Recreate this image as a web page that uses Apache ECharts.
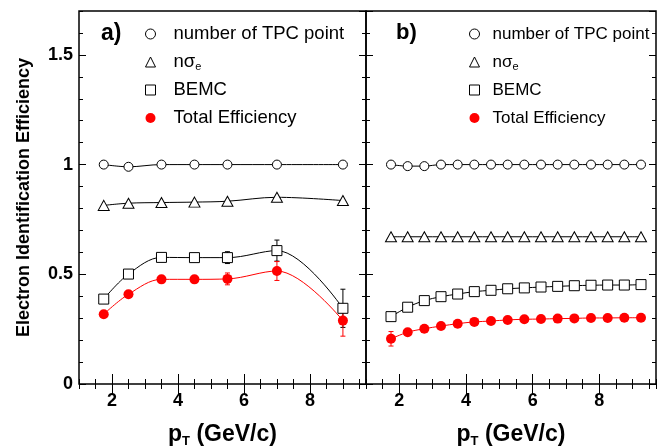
<!DOCTYPE html>
<html>
<head>
<meta charset="utf-8">
<script src="https://cdn.jsdelivr.net/npm/echarts@6/dist/echarts.min.js"></script>
<style>html,body{margin:0;padding:0;background:#fff}#c{width:671px;height:448px}</style>
</head>
<body>
<div id="c"></div>
<script>
// ---------- data ----------
const seriesNames = ['number of TPC point', 'nσe', 'BEMC', 'Total Efficiency'];
const xTickLabels = [2, 4, 6, 8];

// panel a)
const xA     = [1.75, 2.5, 3.5, 4.5, 5.5, 7, 9];
const tpcA   = [1.0, 0.99, 1.0, 1.0, 1.0, 1.0, 1.0];
const nsigA  = [0.814, 0.824, 0.827, 0.829, 0.833, 0.851, 0.836];
const bemcA  = [0.387, 0.501, 0.577, 0.576, 0.576, 0.608, 0.345];
const bemcErrA = [0.005, 0.005, 0.008, 0.008, 0.027, 0.048, 0.087];
const totA   = [0.318, 0.409, 0.477, 0.477, 0.479, 0.515, 0.289];
const totErrA  = [0.006, 0.008, 0.010, 0.010, 0.027, 0.043, 0.071];

// panel b)
const xB     = [1.75, 2.25, 2.75, 3.25, 3.75, 4.25, 4.75, 5.25, 5.75, 6.25, 6.75, 7.25, 7.75, 8.25, 8.75, 9.25];
const tpcB   = [1.0, 0.993, 0.993, 1.0, 1.0, 1.0, 1.0, 1.0, 1.0, 1.0, 1.0, 1.0, 1.0, 1.0, 1.0, 1.0];
const nsigB  = [0.671, 0.671, 0.671, 0.671, 0.671, 0.671, 0.671, 0.671, 0.671, 0.671, 0.671, 0.671, 0.671, 0.671, 0.671, 0.671];
const bemcB  = [0.307, 0.350, 0.380, 0.398, 0.410, 0.421, 0.427, 0.434, 0.438, 0.442, 0.445, 0.448, 0.450, 0.451, 0.451, 0.453];
const totB   = [0.206, 0.236, 0.252, 0.264, 0.275, 0.283, 0.287, 0.292, 0.295, 0.296, 0.298, 0.299, 0.301, 0.301, 0.302, 0.302];
const totErrB  = [0.033, 0.006, 0.005, 0.005, 0.005, 0.004, 0.004, 0.004, 0.004, 0.004, 0.004, 0.004, 0.004, 0.004, 0.004, 0.004];

// ---------- helpers ----------
const FONT = '"Liberation Sans", Arial, Helvetica, sans-serif';
const zip = (xs, ys) => xs.map((x, i) => [x, ys[i]]);
const zip3 = (xs, ys, es) => xs.map((x, i) => [x, ys[i], es[i]]);

const X_MIN = 1, X_MAX = 9.7, Y_MIN = 0, Y_MAX = 1.7;

function gridRect(left, right) {
  return { left: left, right: right, top: 11, bottom: 64, containLabel: false, outerBoundsMode: 'none' };
}

function xAxes(gridIndex, withName) {
  const base = { type: 'value', gridIndex: gridIndex, min: X_MIN, max: X_MAX,
    axisLine: { show: false }, splitLine: { show: false } };
  const major = (pos, labels) => Object.assign({}, base, {
    position: pos,
    axisTick: { show: true, inside: true, length: 10, customValues: xTickLabels, lineStyle: { color: '#000', width: 1 } },
    axisLabel: labels ? { show: true, customValues: xTickLabels, color: '#000', fontFamily: FONT, fontSize: 18, fontWeight: 'bold', margin: 8 } : { show: false },
  }, (labels && withName) ? {
    name: '{p|p}{t|T}{p| (GeV/c)}', nameLocation: 'middle', nameGap: 38,
    nameTextStyle: { color: '#000', fontFamily: FONT, fontSize: 23, fontWeight: 'bold',
      rich: { p: { fontFamily: FONT, fontSize: 23, fontWeight: 'bold', color: '#000', lineHeight: 26 },
              t: { fontFamily: FONT, fontSize: 13, fontWeight: 'bold', color: '#000', lineHeight: 4, verticalAlign: 'bottom' } } }
  } : {});
  const minor = (pos) => Object.assign({}, base, {
    position: pos, gridIndex: gridIndex + 1, interval: 0.5,
    axisTick: { show: true, inside: true, length: 5, lineStyle: { color: '#000', width: 1 } },
    axisLabel: { show: false }
  });
  return [major('bottom', true), major('top', false), minor('bottom'), minor('top')];
}

function yAxes(gridIndex, labels) {
  const base = { type: 'value', gridIndex: gridIndex, min: Y_MIN, max: Y_MAX,
    axisLine: { show: false }, splitLine: { show: false } };
  const major = (pos, lab) => Object.assign({}, base, {
    position: pos, interval: 0.5,
    axisTick: { show: true, inside: true, length: 7, lineStyle: { color: '#000', width: 1 } },
    axisLabel: lab ? { show: true, showMaxLabel: false, color: '#000', fontFamily: FONT, fontSize: 18, fontWeight: 'bold', margin: 6 } : { show: false }
  }, lab ? {
    name: 'Electron Identification Efficiency', nameLocation: 'middle', nameGap: 46,
    nameTextStyle: { color: '#000', fontFamily: FONT, fontSize: 18, fontWeight: 'bold' }
  } : {});
  const minor = (pos) => Object.assign({}, base, {
    position: pos, gridIndex: gridIndex + 1, interval: 0.1,
    axisTick: { show: true, inside: true, length: 4, lineStyle: { color: '#000', width: 1 } },
    axisLabel: { show: false }
  });
  return [major('left', labels), major('right', false), minor('left'), minor('right')];
}

const hollow = { color: '#fff', borderColor: '#000', borderWidth: 1 };

function panelSeries(xi, yi, xs, tpc, nsig, bemc, bemcErr, tot, totErr) {
  const common = { type: 'line', xAxisIndex: xi, yAxisIndex: yi, smooth: 0.35,
    showAllSymbol: true, animation: false, emphasis: { disabled: true }, silent: true };
  const list = [
    Object.assign({}, common, { name: seriesNames[0], data: zip(xs, tpc), symbol: 'circle', symbolSize: 9,
      itemStyle: hollow, lineStyle: { color: '#000', width: 1 }, z: 3 }),
    Object.assign({}, common, { name: seriesNames[1], data: zip(xs, nsig), symbol: 'triangle', symbolSize: [11, 10],
      itemStyle: hollow, lineStyle: { color: '#000', width: 1 }, z: 3 }),
    Object.assign({}, common, { name: seriesNames[2], data: zip(xs, bemc), symbol: 'rect', symbolSize: 10,
      itemStyle: hollow, lineStyle: { color: '#000', width: 1 }, z: 3 }),
    Object.assign({}, common, { name: seriesNames[3], data: zip(xs, tot), symbol: 'circle', symbolSize: 10,
      itemStyle: { color: '#ff0000' }, lineStyle: { color: '#ff0000', width: 1 }, z: 4 })
  ];
  const errSeries = (name, data, color, z) => ({
    type: 'custom', name: name, xAxisIndex: xi, yAxisIndex: yi, data: data, z: z, silent: true, animation: false,
    renderItem: function (params, api) {
      const x = api.value(0), y = api.value(1), e = api.value(2);
      const top = api.coord([x, y + e]), bot = api.coord([x, y - e]);
      const st = { stroke: color, lineWidth: 1 };
      return { type: 'group', children: [
        { type: 'line', shape: { x1: top[0], y1: top[1], x2: bot[0], y2: bot[1] }, style: st },
        { type: 'line', shape: { x1: top[0] - 2.5, y1: top[1], x2: top[0] + 2.5, y2: top[1] }, style: st },
        { type: 'line', shape: { x1: bot[0] - 2.5, y1: bot[1], x2: bot[0] + 2.5, y2: bot[1] }, style: st }
      ] };
    }
  });
  if (bemcErr) list.push(errSeries('bemcErr' + xi, zip3(xs, bemc, bemcErr), '#000', 2));
  list.push(errSeries('totErr' + xi, zip3(xs, tot, totErr), '#ff0000', 2));
  return list;
}

function legendFor(left, fontSize, pad) {
  return {
    orient: 'vertical', left: left, top: 24, itemWidth: 10, itemHeight: 10, itemGap: 8,
    selectedMode: false, padding: 0,
    itemStyle: { borderWidth: 1 },
    data: [
      { name: seriesNames[0], icon: 'circle', itemStyle: { color: '#fff', borderColor: '#000', borderWidth: 1 } },
      { name: seriesNames[1], icon: 'triangle', itemStyle: { color: '#fff', borderColor: '#000', borderWidth: 1 } },
      { name: seriesNames[2], icon: 'rect', itemStyle: { color: '#fff', borderColor: '#000', borderWidth: 1 } },
      { name: seriesNames[3], icon: 'circle', itemStyle: { color: '#ff0000', borderWidth: 0 } }
    ],
    formatter: function (n) { return n === seriesNames[1] ? '{n|nσ}{s|e}' : '{n|' + n + '}'; },
    textStyle: { color: '#000', fontFamily: FONT, fontSize: fontSize, lineHeight: 20, padding: [0, 0, 0, pad],
      rich: { n: { color: '#000', fontFamily: FONT, fontSize: fontSize, lineHeight: 20 },
              s: { color: '#000', fontFamily: FONT, fontSize: 11, lineHeight: 5, verticalAlign: 'bottom' } } }
  };
}

const chart = echarts.init(document.getElementById('c'), null, { renderer: 'canvas' });
const frame = { show: true, borderColor: '#000', borderWidth: 1.5, backgroundColor: 'transparent' };
chart.setOption({
  backgroundColor: '#fff',
  animation: false,
  title: [
    { text: 'a)', left: 101, top: 22, padding: 0, textStyle: { color: '#000', fontFamily: FONT, fontSize: 23, fontWeight: 'bold' } },
    { text: 'b)', left: 396, top: 22, padding: 0, textStyle: { color: '#000', fontFamily: FONT, fontSize: 22, fontWeight: 'bold' } }
  ],
  legend: [legendFor(145, 18.5, 13), legendFor(469, 17, 8)],
  grid: [
    Object.assign(gridRect(79, 305), frame),
    gridRect(79, 305),
    Object.assign(gridRect(366, 15), frame),
    gridRect(366, 15)
  ],
  xAxis: [].concat(xAxes(0, true), xAxes(2, true)),
  yAxis: [].concat(yAxes(0, true), yAxes(2, false)),
  series: [].concat(
    panelSeries(0, 0, xA, tpcA, nsigA, bemcA, bemcErrA, totA, totErrA),
    panelSeries(4, 4, xB, tpcB, nsigB, bemcB, null, totB, totErrB)
  )
});
</script>
</body>
</html>
